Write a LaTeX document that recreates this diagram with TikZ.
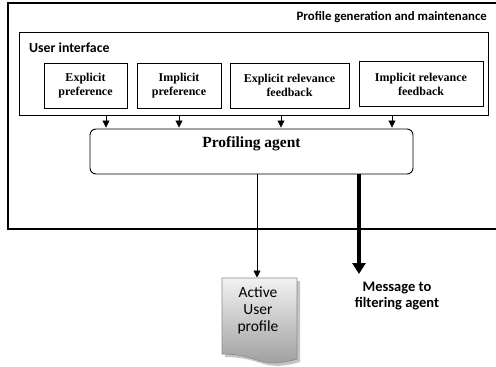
\documentclass[tikz,border=0pt]{standalone}
\usepackage{fontspec}
\setmainfont{Liberation Serif}
\newfontfamily\calib{Carlito}
\usetikzlibrary{arrows.meta}

\definecolor{docborder}{HTML}{8A8A8A}
\definecolor{doctop}{HTML}{F2F2F2}
\definecolor{docbottom}{HTML}{9A9A9A}
\definecolor{docshadow}{HTML}{C4C4C4}

\begin{document}
\begin{tikzpicture}[x=1pt,y=-1pt,
  outerframe/.style={draw=black,line width=2.5pt,minimum width=492pt,minimum height=226pt,inner sep=0pt},
  uiframe/.style={draw=black,line width=0.9pt,minimum width=469pt,minimum height=83pt,inner sep=0pt},
  srcbox/.style={draw=black,line width=0.9pt,inner sep=0pt,minimum height=45pt,align=center,
    font=\fontsize{12}{14}\selectfont\bfseries},
  agentbox/.style={draw=black,line width=0.9pt,rounded corners=6pt,minimum width=323pt,minimum height=45pt,inner sep=0pt},
  sanstitle/.style={inner sep=0pt,font=\calib\bfseries\fontsize{12.8}{15}\selectfont},
  feed/.style={draw=black,line width=0.8pt,-{Triangle[length=7pt,width=7pt]}},
  heavyfeed/.style={draw=black,line width=4pt,-{Triangle[length=11pt,width=13pt]}}]
\useasboundingbox (0,0) rectangle (496,367);
\clip (0,0) rectangle (496,367);

% outer frame and its title
\node[outerframe] (outer) at (254,116) {};
\node[sanstitle,anchor=east] (outertitle) at (487,17) {Profile generation and maintenance};

% user interface frame
\node[uiframe] (ui) at (253.5,73.5) {};
\node[sanstitle,anchor=west,font=\calib\bfseries\fontsize{13.8}{16}\selectfont] (uititle) at (29,48) {User interface};

% input sources
\node[srcbox,minimum width=83pt] (expref) at (85.5,85.5) {Explicit\\preference};
\node[srcbox,minimum width=84pt] (impref) at (179,85.5) {Implicit\\preference};
\node[srcbox,minimum width=119pt] (exfb) at (289.5,85.5) {Explicit relevance\\feedback};
\node[srcbox,minimum width=124pt] (imfb) at (421,84) {Implicit relevance\\feedback};

% profiling agent
\node[agentbox] (agent) at (251.5,151.5) {};
\node[inner sep=0pt,font=\fontsize{15.5}{18}\selectfont\bfseries] (agenttext) at (251.5,144) {Profiling agent};

% columns of the connectors
\coordinate (col1) at (106,0);
\coordinate (col2) at (179,0);
\coordinate (col3) at (281,0);
\coordinate (col4) at (392,0);
\coordinate (col5) at (257,0);
\coordinate (col6) at (359,0);

\draw[feed,shorten >=1pt] (ui.south -| col1) -- (agent.north -| col1);
\draw[feed,shorten >=1pt] (ui.south -| col2) -- (agent.north -| col2);
\draw[feed,shorten >=1pt] (ui.south -| col3) -- (agent.north -| col3);
\draw[feed,shorten >=1pt] (ui.south -| col4) -- (agent.north -| col4);

% active user profile document
\fill[docshadow] (225,281) -- (300,281) -- (300,362)
  .. controls (262.5,373) and (262.5,357) .. (225,357) -- cycle;
\shade[top color=doctop,bottom color=docbottom,draw=docborder,line width=0.6pt]
  (222,278) -- (297,278) -- (297,359)
  .. controls (259.5,370) and (259.5,354) .. (222,354) -- cycle;
\coordinate (doctopedge) at (257,278);
\node[inner sep=0pt,align=center,font=\calib\fontsize{15.5}{17}\selectfont] (doc) at (258,310) {Active\\User\\profile};

\draw[feed,shorten >=0.5pt] (agent.south -| col5) -- (doctopedge);

% message to the filtering agent
\coordinate (msgtip) at (359,274);
\draw[heavyfeed] (agent.south -| col6) -- (msgtip);
\node[inner sep=0pt,align=center,font=\calib\bfseries\fontsize{14.5}{16}\selectfont] (msg) at (397,296) {Message to\\filtering agent};
\end{tikzpicture}
\end{document}
